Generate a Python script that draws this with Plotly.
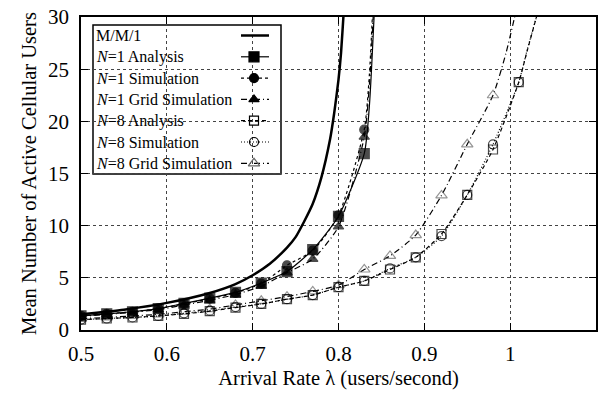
import plotly.graph_objects as go

# ---------------- data ----------------
mm1_x = [0.50, 0.55, 0.60, 0.65, 0.68, 0.70, 0.72, 0.74, 0.75, 0.76, 0.77,
         0.78, 0.79, 0.795, 0.80, 0.803, 0.806, 0.809]
mm1_y = [1.5, 1.95, 2.6, 3.55, 4.4, 5.25, 6.35, 7.9, 8.9, 10.4, 12.1,
         14.6, 18.2, 20.8, 24.0, 26.6, 30.4, 34.0]

n1_x = [0.50, 0.53, 0.56, 0.59, 0.62, 0.65, 0.68, 0.71, 0.74, 0.77, 0.80, 0.83]
n1_analysis = [1.35, 1.55, 1.75, 2.05, 2.55, 3.05, 3.6, 4.5, 5.6, 7.7, 10.9, 16.9]
n1_sim = [1.35, 1.55, 1.75, 2.05, 2.5, 3.0, 3.55, 4.45, 6.2, 7.6, 11.0, 19.2]
n1_grid = [1.3, 1.5, 1.7, 1.95, 2.4, 2.85, 3.4, 4.2, 5.5, 6.8, 9.9, 18.5]

# curve continuation past the last marker (to the top of the plot)
n1_analysis_tail_x = [0.836, 0.842]
n1_analysis_tail_y = [21.5, 31.0]
n1_sim_tail_x = [0.836, 0.840]
n1_sim_tail_y = [24.5, 31.0]
n1_grid_tail_x = [0.836, 0.841]
n1_grid_tail_y = [23.5, 31.0]

n8_x = [0.50, 0.53, 0.56, 0.59, 0.62, 0.65, 0.68, 0.71, 0.74, 0.77, 0.80,
        0.83, 0.86, 0.89, 0.92, 0.95, 0.98, 1.01]
n8_analysis = [1.0, 1.1, 1.2, 1.35, 1.55, 1.8, 2.15, 2.5, 2.95, 3.35, 4.1,
               4.7, 5.8, 6.97, 9.2, 12.95, 17.3, 23.75]
n8_sim = [1.0, 1.1, 1.2, 1.35, 1.6, 1.85, 2.2, 2.5, 2.95, 3.35, 4.1,
          4.7, 5.9, 6.97, 9.0, 12.95, 17.8, 23.75]
n8_grid_x = [0.50, 0.53, 0.56, 0.59, 0.62, 0.65, 0.68, 0.71, 0.74, 0.77, 0.80,
             0.83, 0.86, 0.89, 0.92, 0.95, 0.98]
n8_grid = [1.1, 1.2, 1.35, 1.5, 1.75, 2.0, 2.4, 2.8, 3.2, 3.7, 4.3,
           5.8, 7.1, 9.1, 12.9, 17.8, 22.5]

n8_analysis_tail_x = [1.02, 1.034]
n8_analysis_tail_y = [26.8, 31.0]
n8_sim_tail_x = [1.02, 1.034]
n8_sim_tail_y = [26.9, 31.0]
n8_grid_tail_x = [0.995, 1.008]
n8_grid_tail_y = [26.5, 31.0]

x_ticks = [0.5, 0.6, 0.7, 0.8, 0.9, 1.0, 1.1]
y_ticks = [0, 5, 10, 15, 20, 25, 30]

names = ["M/M/1", "<i>N</i>=1 Analysis", "<i>N</i>=1 Simulation",
         "<i>N</i>=1 Grid Simulation", "<i>N</i>=8 Analysis",
         "<i>N</i>=8 Simulation", "<i>N</i>=8 Grid Simulation"]

# ---------------- styles ----------------
FONT = "Liberation Serif, Times New Roman, Times, serif"
styles = [
    dict(width=2.5, dash="solid", symbol=None, size=0, mcolor="black", lcolor="black"),
    dict(width=1.2, dash="solid", symbol="square", size=10, mcolor="black", lcolor="black"),
    dict(width=1.2, dash="3px,3px", symbol="circle", size=9, mcolor="black", lcolor="black"),
    dict(width=1.2, dash="6px,3px,1px,3px", symbol="triangle-up", size=9, mcolor="black", lcolor="black"),
    dict(width=1.2, dash="4px,3px", symbol="square-open", size=9, mcolor="black", lcolor="black"),
    dict(width=1.2, dash="1px,2px", symbol="circle-open", size=9, mcolor="black", lcolor="black"),
    dict(width=1.2, dash="6px,3px,1px,3px", symbol="triangle-up-open", size=10, mcolor="#666666", lcolor="black"),
]

series = [
    (mm1_x, mm1_y, [], []),
    (n1_x, n1_analysis, n1_analysis_tail_x, n1_analysis_tail_y),
    (n1_x, n1_sim, n1_sim_tail_x, n1_sim_tail_y),
    (n1_x, n1_grid, n1_grid_tail_x, n1_grid_tail_y),
    (n8_x, n8_analysis, n8_analysis_tail_x, n8_analysis_tail_y),
    (n8_x, n8_sim, n8_sim_tail_x, n8_sim_tail_y),
    (n8_grid_x, n8_grid, n8_grid_tail_x, n8_grid_tail_y),
]

fig = go.Figure()

# draw order: N=8 first, then N=1, M/M/1 last
order = [6, 5, 4, 3, 2, 1, 0]
for i in order:
    xs, ys, tx, ty = series[i]
    st = styles[i]
    allx = list(xs) + list(tx)
    ally = list(ys) + list(ty)
    if st["symbol"] is None:
        fig.add_trace(go.Scatter(
            x=allx, y=ally, mode="lines", showlegend=False,
            line=dict(color=st["lcolor"], width=st["width"], dash=st["dash"],
                      shape="spline", smoothing=0.6),
            hoverinfo="skip"))
    else:
        sizes = [st["size"]] * len(xs) + [0] * len(tx)
        fig.add_trace(go.Scatter(
            x=allx, y=ally, mode="lines+markers", showlegend=False,
            line=dict(color=st["lcolor"], width=st["width"], dash=st["dash"],
                      shape="spline", smoothing=0.6),
            marker=dict(symbol=st["symbol"], size=sizes, color=st["mcolor"],
                        line=dict(color=st["mcolor"], width=1.2)),
            hoverinfo="skip"))

# ---------------- custom legend (text left, sample right) ----------------
L, R, T, B = 81, 11, 17, 68
W, H = 607, 398
pw, ph = W - L - R, H - T - B

def px_x(p):
    return (p - L) / pw

def px_y(p):
    return (H - B - p) / ph

box_x0, box_x1 = px_x(93), px_x(281)
box_y0, box_y1 = px_y(174), px_y(25)
row0 = 35.5
row_step = 21.3
samp_x0, samp_x1, samp_xm = px_x(241), px_x(269), px_x(254)

fig.add_shape(type="rect", xref="paper", yref="paper",
              x0=box_x0, x1=box_x1, y0=box_y0, y1=box_y1,
              line=dict(color="black", width=1.5), fillcolor="white",
              layer="between")

for i, name in enumerate(names):
    st = styles[i]
    yy = px_y(row0 + i * row_step)
    fig.add_annotation(x=px_x(94), y=yy, xref="paper", yref="paper",
                       text=name, showarrow=False, xanchor="left",
                       yanchor="middle",
                       font=dict(family=FONT, size=16, color="black"))
    fig.add_trace(go.Scatter(
        x=[samp_x0, samp_x1], y=[yy, yy], xaxis="x2", yaxis="y2",
        mode="lines", showlegend=False, hoverinfo="skip",
        line=dict(color=st["lcolor"], width=st["width"], dash=st["dash"])))
    if st["symbol"] is not None:
        fig.add_trace(go.Scatter(
            x=[samp_xm], y=[yy], xaxis="x2", yaxis="y2",
            mode="markers", showlegend=False, hoverinfo="skip",
            marker=dict(symbol=st["symbol"], size=st["size"], color=st["mcolor"],
                        line=dict(color=st["mcolor"], width=1.2))))

axis_common = dict(
    showline=True, linecolor="black", linewidth=1.6, mirror="allticks",
    ticks="inside", ticklen=7, tickwidth=1.2, tickcolor="black",
    showgrid=True, gridcolor="#444444", gridwidth=1, griddash="dot",
    zeroline=False, tickfont=dict(family=FONT, size=21, color="black"),
)

fig.update_layout(
    width=W, height=H,
    margin=dict(l=L, r=R, t=T, b=B),
    paper_bgcolor="white", plot_bgcolor="white",
    showlegend=False,
    xaxis=dict(range=[0.5, 1.1], tickvals=x_ticks,
               ticktext=[("%g" % v) for v in x_ticks],
               ticklabelstandoff=4,
               title=dict(text="Arrival Rate λ (users/second)",
                          font=dict(family=FONT, size=20.5, color="black"),
                          standoff=6),
               automargin=False, **axis_common),
    yaxis=dict(range=[0, 30], tickvals=y_ticks,
               ticklabelstandoff=6,
               title=dict(text="Mean Number of Active Cellular Users",
                          font=dict(family=FONT, size=20.5, color="black"),
                          standoff=6),
               automargin=False, **axis_common),
    xaxis2=dict(range=[0, 1], overlaying="x", visible=False, fixedrange=True),
    yaxis2=dict(range=[0, 1], overlaying="y", visible=False, fixedrange=True),
)

fig.write_html("out.html")
